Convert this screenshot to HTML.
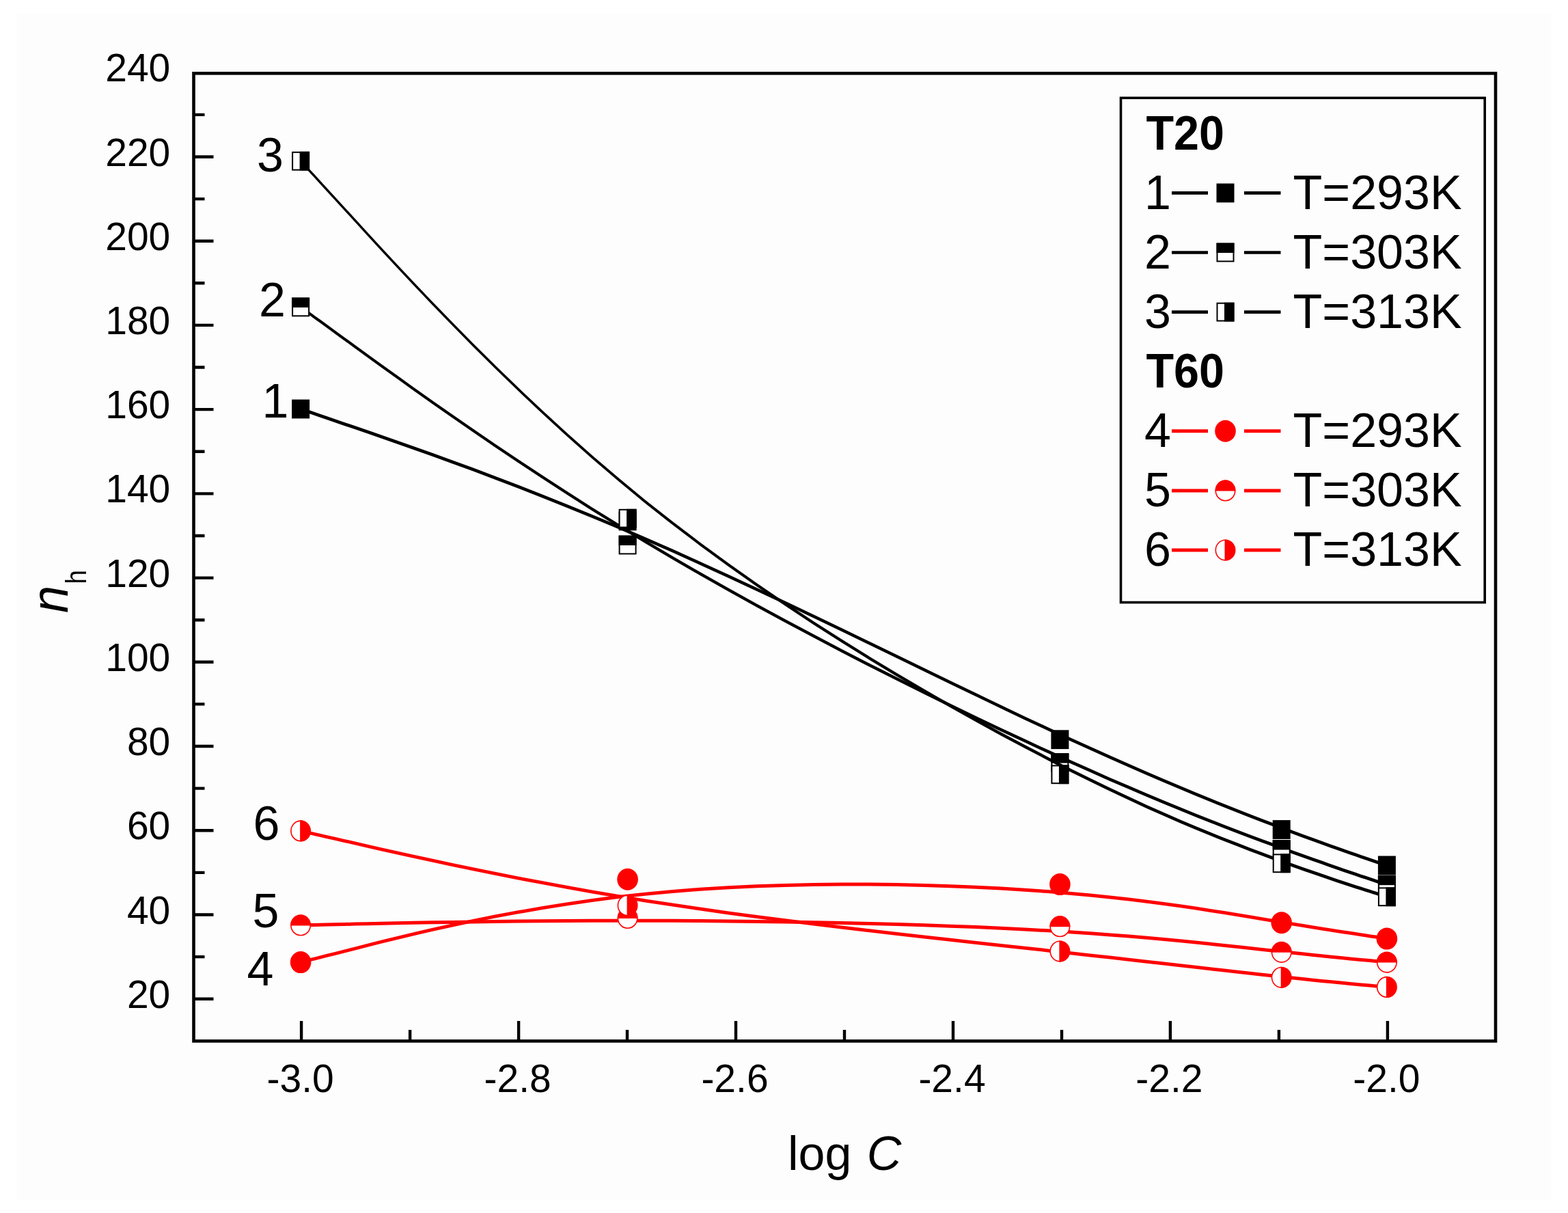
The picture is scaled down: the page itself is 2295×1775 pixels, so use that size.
<!DOCTYPE html>
<html lang="en"><head><meta charset="utf-8"><title>n_h vs log C</title>
<style>html,body{margin:0;padding:0;background:#fff}body{width:2295px;height:1775px;overflow:hidden}svg{display:block}text{font-family:"Liberation Sans",sans-serif;fill:#000}</style></head><body>
<svg width="2295" height="1775" viewBox="0 0 2295 1775">
<rect x="0" y="0" width="2295" height="1775" fill="#ffffff"/>
<rect x="24" y="20" width="2247" height="1737" fill="#fdfdfd"/>
<g>
<path d="M440.1,596.0 L440.1,596.0 L440.3,596.1 L440.9,596.3 L442.0,596.7 L443.7,597.3 L446.4,598.2 L450.1,599.4 L455.0,601.1 L461.3,603.3 L469.2,606.0 L478.8,609.3 L490.3,613.2 L504.0,617.9 L519.9,623.3 L538.1,629.6 L558.8,636.7 L581.6,644.7 L606.5,653.4 L633.4,663.0 L662.1,673.4 L692.5,684.6 L724.6,696.7 L758.2,709.5 L793.1,723.2 L829.3,737.7 L866.7,752.9 L905.1,769.0 L944.3,785.9 L984.4,803.5 L1025.1,821.9 L1066.2,840.7 L1107.6,860.0 L1149.1,879.6 L1190.6,899.3 L1231.8,919.1 L1272.6,938.8 L1312.9,958.3 L1352.5,977.5 L1391.1,996.2 L1428.7,1014.3 L1465.0,1031.8 L1500.0,1048.4 L1533.4,1064.0 L1565.2,1078.7 L1595.7,1092.6 L1624.6,1105.6 L1652.3,1117.8 L1678.5,1129.3 L1703.6,1140.0 L1727.4,1150.1 L1750.0,1159.5 L1771.5,1168.3 L1791.9,1176.5 L1811.4,1184.2 L1829.8,1191.5 L1847.3,1198.3 L1864.0,1204.6 L1879.8,1210.6 L1894.7,1216.2 L1908.8,1221.4 L1922.1,1226.3 L1934.5,1230.8 L1946.0,1235.0 L1956.8,1238.8 L1966.7,1242.3 L1975.8,1245.4 L1984.1,1248.3 L1991.6,1250.9 L1998.3,1253.2 L2004.2,1255.2 L2009.3,1256.9 L2013.7,1258.4 L2017.4,1259.7 L2020.5,1260.7 L2023.1,1261.6 L2025.1,1262.3 L2026.7,1262.8 L2027.9,1263.2 L2028.7,1263.5 L2029.3,1263.7 L2029.6,1263.8 L2029.8,1263.9 L2029.9,1263.9 L2029.9,1263.9 L2029.9,1268.9 L2029.9,1268.9 L2029.8,1268.9 L2029.6,1268.8 L2029.3,1268.7 L2028.7,1268.5 L2027.9,1268.2 L2026.7,1267.8 L2025.1,1267.3 L2023.1,1266.6 L2020.5,1265.7 L2017.4,1264.7 L2013.7,1263.4 L2009.3,1261.9 L2004.2,1260.2 L1998.3,1258.2 L1991.6,1255.9 L1984.1,1253.3 L1975.8,1250.4 L1966.7,1247.3 L1956.8,1243.8 L1946.0,1240.0 L1934.5,1235.8 L1922.1,1231.3 L1908.8,1226.4 L1894.7,1221.2 L1879.8,1215.6 L1864.0,1209.6 L1847.3,1203.3 L1829.8,1196.5 L1811.4,1189.2 L1791.9,1181.5 L1771.5,1173.3 L1750.0,1164.5 L1727.4,1155.1 L1703.6,1145.0 L1678.5,1134.3 L1652.3,1122.8 L1624.6,1110.6 L1595.7,1097.6 L1565.2,1083.7 L1533.4,1069.0 L1500.0,1053.4 L1465.0,1036.8 L1428.7,1019.3 L1391.1,1001.2 L1352.5,982.5 L1312.9,963.3 L1272.6,943.8 L1231.8,924.1 L1190.6,904.3 L1149.1,884.6 L1107.6,865.0 L1066.2,845.7 L1025.1,826.9 L984.4,808.5 L944.3,790.9 L905.1,774.0 L866.7,757.9 L829.3,742.7 L793.1,728.2 L758.2,714.5 L724.6,701.7 L692.5,689.6 L662.1,678.4 L633.4,668.0 L606.5,658.4 L581.6,649.7 L558.8,641.7 L538.1,634.6 L519.9,628.3 L504.0,622.9 L490.3,618.2 L478.8,614.3 L469.2,611.0 L461.3,608.3 L455.0,606.1 L450.1,604.4 L446.4,603.2 L443.7,602.3 L442.0,601.7 L440.9,601.3 L440.3,601.1 L440.1,601.0 L440.1,601.0Z" fill="#000"/>
<rect x="427.1" y="584.6" width="26.0" height="27.8" fill="#000"/>
<rect x="905.6" y="748.5" width="26.0" height="27.8" fill="#000"/>
<rect x="1538.4" y="1068.3" width="26.0" height="27.8" fill="#000"/>
<rect x="1862.7" y="1200.1" width="26.0" height="27.8" fill="#000"/>
<rect x="2016.9" y="1252.5" width="26.0" height="27.8" fill="#000"/>
</g>
<g>
<path d="M440.1,446.9 L440.1,447.0 L440.3,447.1 L440.9,447.5 L442.0,448.3 L443.7,449.6 L446.4,451.5 L450.1,454.2 L455.0,457.8 L461.3,462.4 L469.2,468.1 L478.8,475.1 L490.3,483.5 L504.0,493.4 L519.9,505.0 L538.1,518.3 L558.8,533.2 L581.6,549.6 L606.5,567.4 L633.4,586.4 L662.1,606.6 L692.5,627.6 L724.6,649.5 L758.2,672.0 L793.1,695.1 L829.3,718.6 L866.7,742.4 L905.1,766.2 L944.3,790.1 L984.4,813.8 L1025.1,837.3 L1066.2,860.6 L1107.6,883.5 L1149.1,906.0 L1190.6,928.1 L1231.8,949.7 L1272.6,970.7 L1312.9,991.1 L1352.5,1010.8 L1391.1,1029.8 L1428.7,1047.9 L1465.0,1065.2 L1500.0,1081.6 L1533.4,1097.1 L1565.2,1111.5 L1595.7,1125.1 L1624.6,1137.9 L1652.3,1149.8 L1678.5,1161.0 L1703.6,1171.5 L1727.4,1181.2 L1750.0,1190.4 L1771.5,1198.9 L1791.9,1206.9 L1811.4,1214.4 L1829.8,1221.4 L1847.3,1227.9 L1864.0,1234.1 L1879.8,1240.0 L1894.7,1245.4 L1908.8,1250.5 L1922.1,1255.2 L1934.5,1259.6 L1946.0,1263.7 L1956.8,1267.5 L1966.7,1270.9 L1975.8,1274.0 L1984.1,1276.8 L1991.6,1279.4 L1998.3,1281.6 L2004.2,1283.6 L2009.3,1285.3 L2013.7,1286.8 L2017.4,1288.0 L2020.5,1289.1 L2023.1,1289.9 L2025.1,1290.6 L2026.7,1291.1 L2027.9,1291.5 L2028.7,1291.8 L2029.3,1292.0 L2029.6,1292.1 L2029.8,1292.2 L2029.9,1292.2 L2029.9,1292.2 L2029.9,1297.2 L2029.9,1297.2 L2029.8,1297.2 L2029.6,1297.1 L2029.3,1297.0 L2028.7,1296.8 L2027.9,1296.5 L2026.7,1296.1 L2025.1,1295.6 L2023.1,1294.9 L2020.5,1294.1 L2017.4,1293.0 L2013.7,1291.8 L2009.3,1290.3 L2004.2,1288.6 L1998.3,1286.6 L1991.6,1284.4 L1984.1,1281.8 L1975.8,1279.0 L1966.7,1275.9 L1956.8,1272.5 L1946.0,1268.7 L1934.5,1264.6 L1922.1,1260.2 L1908.8,1255.5 L1894.7,1250.4 L1879.8,1245.0 L1864.0,1239.1 L1847.3,1232.9 L1829.8,1226.4 L1811.4,1219.4 L1791.9,1211.9 L1771.5,1203.9 L1750.0,1195.4 L1727.4,1186.2 L1703.6,1176.5 L1678.5,1166.0 L1652.3,1154.8 L1624.6,1142.9 L1595.7,1130.1 L1565.2,1116.5 L1533.4,1102.1 L1500.0,1086.6 L1465.0,1070.2 L1428.7,1052.9 L1391.1,1034.8 L1352.5,1015.8 L1312.9,996.1 L1272.6,975.7 L1231.8,954.7 L1190.6,933.1 L1149.1,911.0 L1107.6,888.5 L1066.2,865.6 L1025.1,842.3 L984.4,818.8 L944.3,795.1 L905.1,771.2 L866.7,747.4 L829.3,723.6 L793.1,700.1 L758.2,677.0 L724.6,654.5 L692.5,632.6 L662.1,611.6 L633.4,591.4 L606.5,572.4 L581.6,554.6 L558.8,538.2 L538.1,523.3 L519.9,510.0 L504.0,498.4 L490.3,488.5 L478.8,480.1 L469.2,473.1 L461.3,467.4 L455.0,462.8 L450.1,459.2 L446.4,456.5 L443.7,454.6 L442.0,453.3 L440.9,452.5 L440.3,452.1 L440.1,452.0 L440.1,451.9Z" fill="#000"/>
<rect x="428.1" y="436.5" width="24.0" height="25.8" fill="#fff" stroke="#000" stroke-width="2"/><rect x="427.1" y="435.5" width="26.0" height="14.4" fill="#000"/>
<rect x="906.6" y="784.6" width="24.0" height="25.8" fill="#fff" stroke="#000" stroke-width="2"/><rect x="905.6" y="783.6" width="26.0" height="14.4" fill="#000"/>
<rect x="1539.4" y="1103.2" width="24.0" height="25.8" fill="#fff" stroke="#000" stroke-width="2"/><rect x="1538.4" y="1102.2" width="26.0" height="14.4" fill="#000"/>
<rect x="1863.7" y="1230.1" width="24.0" height="25.8" fill="#fff" stroke="#000" stroke-width="2"/><rect x="1862.7" y="1229.1" width="26.0" height="14.4" fill="#000"/>
<rect x="2017.9" y="1281.8" width="24.0" height="25.8" fill="#fff" stroke="#000" stroke-width="2"/><rect x="2016.9" y="1280.8" width="26.0" height="14.4" fill="#000"/>
</g>
<g>
<path d="M440.1,233.2 L440.1,233.2 L440.3,233.4 L440.9,234.0 L442.0,235.2 L443.7,237.1 L446.4,240.0 L450.1,244.0 L455.0,249.4 L461.3,256.3 L469.2,264.9 L478.8,275.4 L490.3,288.1 L504.0,303.0 L519.9,320.3 L538.1,340.3 L558.8,362.7 L581.6,387.3 L606.5,413.8 L633.4,442.0 L662.1,471.6 L692.5,502.5 L724.6,534.3 L758.2,566.8 L793.1,599.8 L829.3,633.0 L866.7,666.2 L905.1,699.1 L944.3,731.5 L984.4,763.1 L1025.1,794.0 L1066.2,824.1 L1107.6,853.3 L1149.1,881.6 L1190.6,908.9 L1231.8,935.3 L1272.6,960.7 L1312.9,985.1 L1352.5,1008.3 L1391.1,1030.5 L1428.7,1051.6 L1465.0,1071.4 L1500.0,1090.0 L1533.4,1107.5 L1565.2,1123.7 L1595.7,1138.8 L1624.6,1152.8 L1652.3,1165.8 L1678.5,1177.9 L1703.6,1189.0 L1727.4,1199.4 L1750.0,1208.9 L1771.5,1217.8 L1791.9,1226.0 L1811.4,1233.6 L1829.8,1240.7 L1847.3,1247.3 L1864.0,1253.5 L1879.8,1259.3 L1894.7,1264.7 L1908.8,1269.7 L1922.1,1274.3 L1934.5,1278.6 L1946.0,1282.6 L1956.8,1286.2 L1966.7,1289.5 L1975.8,1292.5 L1984.1,1295.2 L1991.6,1297.6 L1998.3,1299.7 L2004.2,1301.6 L2009.3,1303.2 L2013.7,1304.6 L2017.4,1305.8 L2020.5,1306.8 L2023.1,1307.6 L2025.1,1308.3 L2026.7,1308.8 L2027.9,1309.1 L2028.7,1309.4 L2029.3,1309.6 L2029.6,1309.7 L2029.8,1309.8 L2029.9,1309.8 L2029.9,1309.8 L2029.9,1314.8 L2029.9,1314.8 L2029.8,1314.8 L2029.6,1314.7 L2029.3,1314.6 L2028.7,1314.4 L2027.9,1314.1 L2026.7,1313.8 L2025.1,1313.3 L2023.1,1312.6 L2020.5,1311.8 L2017.4,1310.8 L2013.7,1309.6 L2009.3,1308.2 L2004.2,1306.6 L1998.3,1304.7 L1991.6,1302.6 L1984.1,1300.2 L1975.8,1297.5 L1966.7,1294.5 L1956.8,1291.2 L1946.0,1287.6 L1934.5,1283.6 L1922.1,1279.3 L1908.8,1274.7 L1894.7,1269.7 L1879.8,1264.3 L1864.0,1258.5 L1847.3,1252.3 L1829.8,1245.7 L1811.4,1238.6 L1791.9,1231.0 L1771.5,1222.8 L1750.0,1213.9 L1727.4,1204.4 L1703.6,1194.0 L1678.5,1182.9 L1652.3,1170.8 L1624.6,1157.8 L1595.7,1143.8 L1565.2,1128.7 L1533.4,1112.5 L1500.0,1095.0 L1465.0,1076.4 L1428.7,1056.6 L1391.1,1035.5 L1352.5,1013.3 L1312.9,990.1 L1272.6,965.7 L1231.8,940.3 L1190.6,913.9 L1149.1,886.6 L1107.6,858.3 L1066.2,829.1 L1025.1,799.0 L984.4,768.1 L944.3,736.5 L905.1,704.1 L866.7,671.2 L829.3,638.0 L793.1,604.8 L758.2,571.8 L724.6,539.3 L692.5,507.5 L662.1,476.6 L633.4,447.0 L606.5,418.8 L581.6,392.3 L558.8,367.7 L538.1,345.3 L519.9,325.3 L504.0,308.0 L490.3,293.1 L478.8,280.4 L469.2,269.9 L461.3,261.3 L455.0,254.4 L450.1,249.0 L446.4,245.0 L443.7,242.1 L442.0,240.2 L440.9,239.0 L440.3,238.4 L440.1,238.2 L440.1,238.2Z" fill="#000"/>
<rect x="428.1" y="222.8" width="24.0" height="25.8" fill="#fff" stroke="#000" stroke-width="2"/><rect x="438.6" y="221.8" width="14.5" height="27.8" fill="#000"/>
<rect x="906.6" y="745.8" width="24.0" height="25.8" fill="#fff" stroke="#000" stroke-width="2"/><rect x="917.1" y="744.8" width="14.5" height="27.8" fill="#000"/>
<rect x="1539.4" y="1120.4" width="24.0" height="25.8" fill="#fff" stroke="#000" stroke-width="2"/><rect x="1549.9" y="1119.4" width="14.5" height="27.8" fill="#000"/>
<rect x="1863.7" y="1250.4" width="24.0" height="25.8" fill="#fff" stroke="#000" stroke-width="2"/><rect x="1874.2" y="1249.4" width="14.5" height="27.8" fill="#000"/>
<rect x="2017.9" y="1299.4" width="24.0" height="25.8" fill="#fff" stroke="#000" stroke-width="2"/><rect x="2028.4" y="1298.4" width="14.5" height="27.8" fill="#000"/>
</g>
<g>
<path d="M440.1,1405.6 L440.1,1405.6 L440.3,1405.5 L440.9,1405.4 L442.0,1405.1 L443.7,1404.7 L446.4,1404.0 L450.1,1403.1 L455.0,1401.8 L461.3,1400.2 L469.2,1398.2 L478.8,1395.8 L490.3,1392.9 L504.0,1389.4 L519.9,1385.4 L538.1,1380.7 L558.8,1375.6 L581.6,1370.0 L606.5,1364.0 L633.4,1357.8 L662.1,1351.5 L692.5,1345.1 L724.6,1338.6 L758.2,1332.3 L793.1,1326.2 L829.3,1320.4 L866.7,1315.0 L905.1,1310.1 L944.3,1305.7 L984.4,1301.9 L1025.1,1298.8 L1066.2,1296.3 L1107.6,1294.3 L1149.1,1292.9 L1190.6,1292.0 L1231.8,1291.6 L1272.6,1291.6 L1312.9,1292.1 L1352.5,1293.0 L1391.1,1294.2 L1428.7,1295.7 L1465.0,1297.6 L1500.0,1299.7 L1533.4,1302.1 L1565.2,1304.7 L1595.7,1307.5 L1624.6,1310.5 L1652.3,1313.5 L1678.5,1316.7 L1703.6,1320.0 L1727.4,1323.3 L1750.0,1326.6 L1771.5,1329.9 L1791.9,1333.1 L1811.4,1336.3 L1829.8,1339.3 L1847.3,1342.2 L1864.0,1345.0 L1879.8,1347.6 L1894.7,1350.0 L1908.8,1352.3 L1922.1,1354.4 L1934.5,1356.4 L1946.0,1358.2 L1956.8,1359.9 L1966.7,1361.4 L1975.8,1362.8 L1984.1,1364.1 L1991.6,1365.3 L1998.3,1366.3 L2004.2,1367.2 L2009.3,1368.0 L2013.7,1368.6 L2017.4,1369.2 L2020.5,1369.7 L2023.1,1370.1 L2025.1,1370.4 L2026.7,1370.6 L2027.9,1370.8 L2028.7,1370.9 L2029.3,1371.0 L2029.6,1371.0 L2029.8,1371.1 L2029.9,1371.1 L2029.9,1371.1 L2029.9,1376.1 L2029.9,1376.1 L2029.8,1376.1 L2029.6,1376.0 L2029.3,1376.0 L2028.7,1375.9 L2027.9,1375.8 L2026.7,1375.6 L2025.1,1375.4 L2023.1,1375.1 L2020.5,1374.7 L2017.4,1374.2 L2013.7,1373.6 L2009.3,1373.0 L2004.2,1372.2 L1998.3,1371.3 L1991.6,1370.3 L1984.1,1369.1 L1975.8,1367.8 L1966.7,1366.4 L1956.8,1364.9 L1946.0,1363.2 L1934.5,1361.4 L1922.1,1359.4 L1908.8,1357.3 L1894.7,1355.0 L1879.8,1352.6 L1864.0,1350.0 L1847.3,1347.2 L1829.8,1344.3 L1811.4,1341.3 L1791.9,1338.1 L1771.5,1334.9 L1750.0,1331.6 L1727.4,1328.3 L1703.6,1325.0 L1678.5,1321.7 L1652.3,1318.5 L1624.6,1315.5 L1595.7,1312.5 L1565.2,1309.7 L1533.4,1307.1 L1500.0,1304.7 L1465.0,1302.6 L1428.7,1300.7 L1391.1,1299.2 L1352.5,1298.0 L1312.9,1297.1 L1272.6,1296.6 L1231.8,1296.6 L1190.6,1297.0 L1149.1,1297.9 L1107.6,1299.3 L1066.2,1301.3 L1025.1,1303.8 L984.4,1306.9 L944.3,1310.7 L905.1,1315.1 L866.7,1320.0 L829.3,1325.4 L793.1,1331.2 L758.2,1337.3 L724.6,1343.6 L692.5,1350.1 L662.1,1356.5 L633.4,1362.8 L606.5,1369.0 L581.6,1375.0 L558.8,1380.6 L538.1,1385.7 L519.9,1390.4 L504.0,1394.4 L490.3,1397.9 L478.8,1400.8 L469.2,1403.2 L461.3,1405.2 L455.0,1406.8 L450.1,1408.1 L446.4,1409.0 L443.7,1409.7 L442.0,1410.1 L440.9,1410.4 L440.3,1410.5 L440.1,1410.6 L440.1,1410.6Z" fill="#f00"/>
<ellipse cx="440.1" cy="1408.1" rx="15.3" ry="16.0" fill="#f00"/>
<ellipse cx="918.6" cy="1286.7" rx="15.3" ry="16.0" fill="#f00"/>
<ellipse cx="1551.4" cy="1294.1" rx="15.3" ry="16.0" fill="#f00"/>
<ellipse cx="1875.7" cy="1350.2" rx="15.3" ry="16.0" fill="#f00"/>
<ellipse cx="2029.9" cy="1373.6" rx="15.3" ry="16.0" fill="#f00"/>
</g>
<g>
<path d="M440.1,1351.4 L440.1,1351.4 L440.3,1351.4 L440.9,1351.4 L442.0,1351.3 L443.7,1351.3 L446.4,1351.2 L450.1,1351.2 L455.0,1351.0 L461.3,1350.9 L469.2,1350.7 L478.8,1350.5 L490.3,1350.3 L504.0,1350.0 L519.9,1349.6 L538.1,1349.2 L558.8,1348.8 L581.6,1348.3 L606.5,1347.8 L633.4,1347.3 L662.1,1346.9 L692.5,1346.4 L724.6,1346.0 L758.2,1345.6 L793.1,1345.2 L829.3,1345.0 L866.7,1344.8 L905.1,1344.7 L944.3,1344.7 L984.4,1344.8 L1025.1,1345.1 L1066.2,1345.4 L1107.6,1345.9 L1149.1,1346.5 L1190.6,1347.2 L1231.8,1348.1 L1272.6,1349.0 L1312.9,1350.1 L1352.5,1351.3 L1391.1,1352.7 L1428.7,1354.1 L1465.0,1355.7 L1500.0,1357.4 L1533.4,1359.3 L1565.2,1361.2 L1595.7,1363.3 L1624.6,1365.4 L1652.3,1367.6 L1678.5,1369.8 L1703.6,1372.1 L1727.4,1374.3 L1750.0,1376.6 L1771.5,1378.8 L1791.9,1380.9 L1811.4,1383.1 L1829.8,1385.1 L1847.3,1387.0 L1864.0,1388.8 L1879.8,1390.5 L1894.7,1392.1 L1908.8,1393.6 L1922.1,1395.0 L1934.5,1396.2 L1946.0,1397.4 L1956.8,1398.5 L1966.7,1399.5 L1975.8,1400.4 L1984.1,1401.2 L1991.6,1401.9 L1998.3,1402.6 L2004.2,1403.1 L2009.3,1403.6 L2013.7,1404.0 L2017.4,1404.4 L2020.5,1404.7 L2023.1,1404.9 L2025.1,1405.1 L2026.7,1405.3 L2027.9,1405.4 L2028.7,1405.5 L2029.3,1405.5 L2029.6,1405.6 L2029.8,1405.6 L2029.9,1405.6 L2029.9,1405.6 L2029.9,1410.6 L2029.9,1410.6 L2029.8,1410.6 L2029.6,1410.6 L2029.3,1410.5 L2028.7,1410.5 L2027.9,1410.4 L2026.7,1410.3 L2025.1,1410.1 L2023.1,1409.9 L2020.5,1409.7 L2017.4,1409.4 L2013.7,1409.0 L2009.3,1408.6 L2004.2,1408.1 L1998.3,1407.6 L1991.6,1406.9 L1984.1,1406.2 L1975.8,1405.4 L1966.7,1404.5 L1956.8,1403.5 L1946.0,1402.4 L1934.5,1401.2 L1922.1,1400.0 L1908.8,1398.6 L1894.7,1397.1 L1879.8,1395.5 L1864.0,1393.8 L1847.3,1392.0 L1829.8,1390.1 L1811.4,1388.1 L1791.9,1385.9 L1771.5,1383.8 L1750.0,1381.6 L1727.4,1379.3 L1703.6,1377.1 L1678.5,1374.8 L1652.3,1372.6 L1624.6,1370.4 L1595.7,1368.3 L1565.2,1366.2 L1533.4,1364.3 L1500.0,1362.4 L1465.0,1360.7 L1428.7,1359.1 L1391.1,1357.7 L1352.5,1356.3 L1312.9,1355.1 L1272.6,1354.0 L1231.8,1353.1 L1190.6,1352.2 L1149.1,1351.5 L1107.6,1350.9 L1066.2,1350.4 L1025.1,1350.1 L984.4,1349.8 L944.3,1349.7 L905.1,1349.7 L866.7,1349.8 L829.3,1350.0 L793.1,1350.2 L758.2,1350.6 L724.6,1351.0 L692.5,1351.4 L662.1,1351.9 L633.4,1352.3 L606.5,1352.8 L581.6,1353.3 L558.8,1353.8 L538.1,1354.2 L519.9,1354.6 L504.0,1355.0 L490.3,1355.3 L478.8,1355.5 L469.2,1355.7 L461.3,1355.9 L455.0,1356.0 L450.1,1356.2 L446.4,1356.2 L443.7,1356.3 L442.0,1356.3 L440.9,1356.4 L440.3,1356.4 L440.1,1356.4 L440.1,1356.4Z" fill="#f00"/>
<ellipse cx="440.1" cy="1353.9" rx="14.2" ry="14.8" fill="#fff" stroke="#f00" stroke-width="1.6"/><path d="M425.1,1354.4 A15.0,15.6 0 0 1 455.1,1354.4 Z" fill="#f00"/>
<ellipse cx="918.6" cy="1343.4" rx="14.2" ry="14.8" fill="#fff" stroke="#f00" stroke-width="1.6"/><path d="M903.6,1343.9 A15.0,15.6 0 0 1 933.6,1343.9 Z" fill="#f00"/>
<ellipse cx="1551.4" cy="1355.7" rx="14.2" ry="14.8" fill="#fff" stroke="#f00" stroke-width="1.6"/><path d="M1536.4,1356.2 A15.0,15.6 0 0 1 1566.4,1356.2 Z" fill="#f00"/>
<ellipse cx="1875.7" cy="1393.3" rx="14.2" ry="14.8" fill="#fff" stroke="#f00" stroke-width="1.6"/><path d="M1860.7,1393.8 A15.0,15.6 0 0 1 1890.7,1393.8 Z" fill="#f00"/>
<ellipse cx="2029.9" cy="1408.1" rx="14.2" ry="14.8" fill="#fff" stroke="#f00" stroke-width="1.6"/><path d="M2014.9,1408.6 A15.0,15.6 0 0 1 2044.9,1408.6 Z" fill="#f00"/>
</g>
<g>
<path d="M440.1,1213.4 L440.1,1213.4 L440.3,1213.4 L440.9,1213.5 L442.0,1213.8 L443.7,1214.2 L446.4,1214.8 L450.1,1215.6 L455.0,1216.8 L461.3,1218.2 L469.2,1220.0 L478.8,1222.2 L490.3,1224.8 L504.0,1227.9 L519.9,1231.5 L538.1,1235.7 L558.8,1240.4 L581.6,1245.5 L606.5,1251.0 L633.4,1256.8 L662.1,1262.9 L692.5,1269.3 L724.6,1275.8 L758.2,1282.4 L793.1,1289.1 L829.3,1295.8 L866.7,1302.5 L905.1,1309.0 L944.3,1315.4 L984.4,1321.6 L1025.1,1327.6 L1066.2,1333.4 L1107.6,1338.9 L1149.1,1344.3 L1190.6,1349.5 L1231.8,1354.5 L1272.6,1359.3 L1312.9,1364.0 L1352.5,1368.5 L1391.1,1372.8 L1428.7,1376.9 L1465.0,1380.9 L1500.0,1384.7 L1533.4,1388.4 L1565.2,1392.0 L1595.7,1395.4 L1624.6,1398.6 L1652.3,1401.7 L1678.5,1404.7 L1703.6,1407.6 L1727.4,1410.3 L1750.0,1412.8 L1771.5,1415.3 L1791.9,1417.6 L1811.4,1419.8 L1829.8,1421.8 L1847.3,1423.8 L1864.0,1425.6 L1879.8,1427.3 L1894.7,1428.8 L1908.8,1430.3 L1922.1,1431.7 L1934.5,1432.9 L1946.0,1434.1 L1956.8,1435.1 L1966.7,1436.1 L1975.8,1436.9 L1984.1,1437.7 L1991.6,1438.4 L1998.3,1439.0 L2004.2,1439.6 L2009.3,1440.0 L2013.7,1440.5 L2017.4,1440.8 L2020.5,1441.1 L2023.1,1441.3 L2025.1,1441.5 L2026.7,1441.6 L2027.9,1441.8 L2028.7,1441.8 L2029.3,1441.9 L2029.6,1441.9 L2029.8,1441.9 L2029.9,1441.9 L2029.9,1441.9 L2029.9,1446.9 L2029.9,1446.9 L2029.8,1446.9 L2029.6,1446.9 L2029.3,1446.9 L2028.7,1446.8 L2027.9,1446.8 L2026.7,1446.6 L2025.1,1446.5 L2023.1,1446.3 L2020.5,1446.1 L2017.4,1445.8 L2013.7,1445.5 L2009.3,1445.0 L2004.2,1444.6 L1998.3,1444.0 L1991.6,1443.4 L1984.1,1442.7 L1975.8,1441.9 L1966.7,1441.1 L1956.8,1440.1 L1946.0,1439.1 L1934.5,1437.9 L1922.1,1436.7 L1908.8,1435.3 L1894.7,1433.8 L1879.8,1432.3 L1864.0,1430.6 L1847.3,1428.8 L1829.8,1426.8 L1811.4,1424.8 L1791.9,1422.6 L1771.5,1420.3 L1750.0,1417.8 L1727.4,1415.3 L1703.6,1412.6 L1678.5,1409.7 L1652.3,1406.7 L1624.6,1403.6 L1595.7,1400.4 L1565.2,1397.0 L1533.4,1393.4 L1500.0,1389.7 L1465.0,1385.9 L1428.7,1381.9 L1391.1,1377.8 L1352.5,1373.5 L1312.9,1369.0 L1272.6,1364.3 L1231.8,1359.5 L1190.6,1354.5 L1149.1,1349.3 L1107.6,1343.9 L1066.2,1338.4 L1025.1,1332.6 L984.4,1326.6 L944.3,1320.4 L905.1,1314.0 L866.7,1307.5 L829.3,1300.8 L793.1,1294.1 L758.2,1287.4 L724.6,1280.8 L692.5,1274.3 L662.1,1267.9 L633.4,1261.8 L606.5,1256.0 L581.6,1250.5 L558.8,1245.4 L538.1,1240.7 L519.9,1236.5 L504.0,1232.9 L490.3,1229.8 L478.8,1227.2 L469.2,1225.0 L461.3,1223.2 L455.0,1221.8 L450.1,1220.6 L446.4,1219.8 L443.7,1219.2 L442.0,1218.8 L440.9,1218.5 L440.3,1218.4 L440.1,1218.4 L440.1,1218.4Z" fill="#f00"/>
<ellipse cx="440.1" cy="1215.9" rx="14.2" ry="14.8" fill="#fff" stroke="#f00" stroke-width="1.6"/><path d="M439.1,1200.3 A15.0,15.6 0 0 1 439.1,1231.5 Z" fill="#f00"/>
<ellipse cx="918.6" cy="1324.9" rx="14.2" ry="14.8" fill="#fff" stroke="#f00" stroke-width="1.6"/><path d="M917.6,1309.3 A15.0,15.6 0 0 1 917.6,1340.5 Z" fill="#f00"/>
<ellipse cx="1551.4" cy="1392.1" rx="14.2" ry="14.8" fill="#fff" stroke="#f00" stroke-width="1.6"/><path d="M1550.4,1376.5 A15.0,15.6 0 0 1 1550.4,1407.7 Z" fill="#f00"/>
<ellipse cx="1875.7" cy="1430.3" rx="14.2" ry="14.8" fill="#fff" stroke="#f00" stroke-width="1.6"/><path d="M1874.7,1414.7 A15.0,15.6 0 0 1 1874.7,1445.9 Z" fill="#f00"/>
<ellipse cx="2029.9" cy="1444.4" rx="14.2" ry="14.8" fill="#fff" stroke="#f00" stroke-width="1.6"/><path d="M2028.9,1428.8 A15.0,15.6 0 0 1 2028.9,1460.0 Z" fill="#f00"/>
</g>
<rect x="283.5" y="107.3" width="1905.5" height="1416.1" fill="none" stroke="#000" stroke-width="4.6"/>
<path d="M283.5,1461.7h29M283.5,1400.1h16M283.5,1338.5h29M283.5,1276.9h16M283.5,1215.2h29M283.5,1153.6h16M283.5,1092.0h29M283.5,1030.4h16M283.5,968.8h29M283.5,907.2h16M283.5,845.6h29M283.5,784.0h16M283.5,722.4h29M283.5,660.8h16M283.5,599.1h29M283.5,537.5h16M283.5,475.9h29M283.5,414.3h16M283.5,352.7h29M283.5,291.1h16M283.5,229.5h29M283.5,167.9h16M441.1,1523.4v-29.3M600.1,1523.4v-16.3M759.1,1523.4v-29.3M918.0,1523.4v-16.3M1077.0,1523.4v-29.3M1236.0,1523.4v-16.3M1395.0,1523.4v-29.3M1554.0,1523.4v-16.3M1712.9,1523.4v-29.3M1871.9,1523.4v-16.3M2030.9,1523.4v-29.3" fill="none" stroke="#000" stroke-width="4.4"/>
<g font-size="57" text-anchor="end">
<text x="249.3" y="1474.7">20</text>
<text x="249.3" y="1351.5">40</text>
<text x="249.3" y="1228.2">60</text>
<text x="249.3" y="1105.0">80</text>
<text x="249.3" y="981.8">100</text>
<text x="249.3" y="858.6">120</text>
<text x="249.3" y="735.4">140</text>
<text x="249.3" y="612.1">160</text>
<text x="249.3" y="488.9">180</text>
<text x="249.3" y="365.7">200</text>
<text x="249.3" y="242.5">220</text>
<text x="249.3" y="119.3">240</text>
</g>
<g font-size="57" text-anchor="middle">
<text x="439.6" y="1597.6">-3.0</text>
<text x="757.6" y="1597.6">-2.8</text>
<text x="1075.5" y="1597.6">-2.6</text>
<text x="1393.5" y="1597.6">-2.4</text>
<text x="1711.4" y="1597.6">-2.2</text>
<text x="2029.4" y="1597.6">-2.0</text>
</g>
<text x="1236.1" y="1711.8" font-size="70" text-anchor="middle">log <tspan font-style="italic" dx="2.8">C</tspan></text>
<g transform="translate(99,897) rotate(-90)"><text x="0" y="0" font-size="76" font-style="italic" transform="scale(0.95,1)">n</text><text x="0" y="0" font-size="42" transform="translate(42.4,27) scale(0.87,1)">h</text></g>
<g font-size="70" text-anchor="middle">
<text x="395.5" y="250.5">3</text>
<text x="398.5" y="463.0">2</text>
<text x="403.0" y="611.0">1</text>
<text x="390.0" y="1229.0">6</text>
<text x="389.0" y="1357.0">5</text>
<text x="381.0" y="1442.0">4</text>
</g>
<rect x="1640.5" y="143.3" width="532.7" height="738.2" fill="#fdfdfd" stroke="#000" stroke-width="3.6"/>
<g font-size="70">
<text x="0" y="0" font-weight="bold" transform="translate(1677.5,218.7) scale(0.95,1)">T20</text>
<text x="1675" y="305.8">1</text>
<path d="M1715,282.4H1768M1821,282.4H1874.5" stroke="#000" stroke-width="4.6" fill="none"/>
<rect x="1780.5" y="268.5" width="26.0" height="27.8" fill="#000"/>
<text x="1892.5" y="305.8">T=293K</text>
<text x="1675" y="392.9">2</text>
<path d="M1715,369.5H1768M1821,369.5H1874.5" stroke="#000" stroke-width="4.6" fill="none"/>
<rect x="1781.5" y="356.6" width="24.0" height="25.8" fill="#fff" stroke="#000" stroke-width="2"/><rect x="1780.5" y="355.6" width="26.0" height="14.4" fill="#000"/>
<text x="1892.5" y="392.9">T=303K</text>
<text x="1675" y="480.0">3</text>
<path d="M1715,456.6H1768M1821,456.6H1874.5" stroke="#000" stroke-width="4.6" fill="none"/>
<rect x="1781.5" y="443.7" width="24.0" height="25.8" fill="#fff" stroke="#000" stroke-width="2"/><rect x="1792.0" y="442.7" width="14.5" height="27.8" fill="#000"/>
<text x="1892.5" y="480.0">T=313K</text>
<text x="0" y="0" font-weight="bold" transform="translate(1677.5,567.1) scale(0.95,1)">T60</text>
<text x="1675" y="654.2">4</text>
<path d="M1715,630.8H1768M1821,630.8H1874.5" stroke="#f00" stroke-width="5.0" fill="none"/>
<ellipse cx="1793.5" cy="630.8" rx="15.3" ry="16.0" fill="#f00"/>
<text x="1892.5" y="654.2">T=293K</text>
<text x="1675" y="741.3">5</text>
<path d="M1715,717.9H1768M1821,717.9H1874.5" stroke="#f00" stroke-width="5.0" fill="none"/>
<ellipse cx="1793.5" cy="717.9" rx="14.2" ry="14.8" fill="#fff" stroke="#f00" stroke-width="1.6"/><path d="M1778.5,718.4 A15.0,15.6 0 0 1 1808.5,718.4 Z" fill="#f00"/>
<text x="1892.5" y="741.3">T=303K</text>
<text x="1675" y="828.4">6</text>
<path d="M1715,805.0H1768M1821,805.0H1874.5" stroke="#f00" stroke-width="5.0" fill="none"/>
<ellipse cx="1793.5" cy="805.0" rx="14.2" ry="14.8" fill="#fff" stroke="#f00" stroke-width="1.6"/><path d="M1792.5,789.4 A15.0,15.6 0 0 1 1792.5,820.6 Z" fill="#f00"/>
<text x="1892.5" y="828.4">T=313K</text>
</g>
</svg></body></html>
